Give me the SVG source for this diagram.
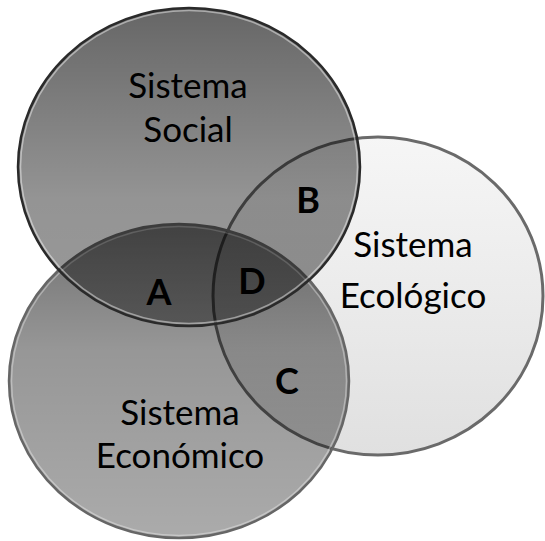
<svg xmlns="http://www.w3.org/2000/svg" width="545" height="541" viewBox="0 0 545 541">
  <defs>
    <linearGradient id="gEco" x1="0" y1="0" x2="0" y2="1">
      <stop offset="0" stop-color="#f6f6f6"/>
      <stop offset="1" stop-color="#e0e0e0"/>
    </linearGradient>
    <linearGradient id="gSoc" x1="0" y1="0" x2="0" y2="1">
      <stop offset="0" stop-color="#000" stop-opacity="0.6"/>
      <stop offset="0.6" stop-color="#000" stop-opacity="0.42"/>
      <stop offset="1" stop-color="#000" stop-opacity="0.4"/>
    </linearGradient>
    <linearGradient id="gEcon" x1="0" y1="0" x2="0" y2="1">
      <stop offset="0" stop-color="#000" stop-opacity="0.56"/>
      <stop offset="0.4" stop-color="#000" stop-opacity="0.41"/>
      <stop offset="1" stop-color="#000" stop-opacity="0.33"/>
    </linearGradient>
  </defs>
  <style>
    .lbl { font-family: Lato, "Open Sans", "Liberation Sans", sans-serif; font-size: 35px; fill: #000; text-anchor: middle; }
    .let { font-family: Lato, "Open Sans", "Liberation Sans", sans-serif; font-size: 36px; font-weight: bold; fill: #000; text-anchor: middle; }
    .hl { fill: none; stroke-width: 1.5; }
  </style>
  <rect width="545" height="541" fill="#fff"/>
  <g id="ecologico">
    <ellipse cx="378" cy="296" rx="165" ry="159" fill="url(#gEco)" stroke="#6a6a6a" stroke-width="3"/>
  </g>
  <g id="economico">
    <ellipse cx="179" cy="381" rx="170" ry="157" fill="url(#gEcon)" stroke="#666" stroke-width="2.5"/>
    <ellipse class="hl" cx="179" cy="381" rx="167.5" ry="154.5" stroke="#fff" stroke-opacity="0.35"/>
  </g>
  <g id="social">
    <ellipse cx="189" cy="167" rx="171" ry="159" fill="url(#gSoc)" stroke="#2a2a2a" stroke-width="2.5"/>
    <ellipse class="hl" cx="189" cy="167" rx="168.5" ry="156.5" stroke="#fff" stroke-opacity="0.45"/>
  </g>
  <g id="textos">
    <text class="lbl" x="188" y="98">Sistema</text>
    <text class="lbl" x="188" y="142">Social</text>
    <text class="lbl" x="413" y="257">Sistema</text>
    <text class="lbl" x="413" y="308">Ecológico</text>
    <text class="lbl" x="180" y="425">Sistema</text>
    <text class="lbl" x="180" y="468">Económico</text>
  </g>
  <g id="regiones">
    <text class="let" x="159" y="305">A</text>
    <text class="let" x="308" y="213">B</text>
    <text class="let" x="287" y="394">C</text>
    <text class="let" x="252" y="294">D</text>
  </g>
</svg>
